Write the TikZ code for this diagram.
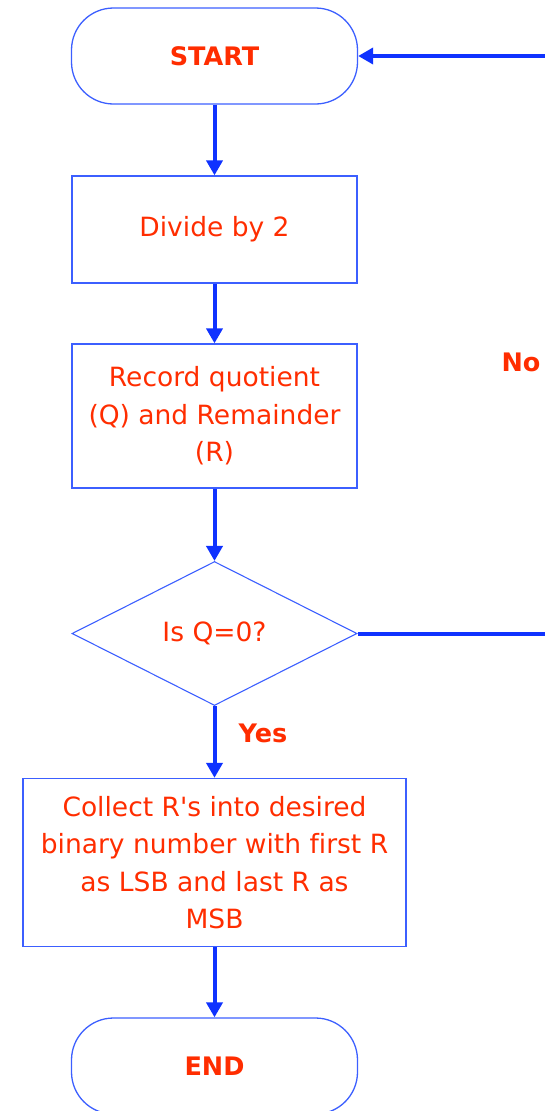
\documentclass[tikz,border=0pt]{standalone}
\usepackage{fontspec}
\setmainfont{DejaVu Sans}[Ligatures={NoCommon}]
\usetikzlibrary{shapes.geometric,arrows.meta}
\definecolor{lineblue}{RGB}{15,50,255}
\definecolor{boxblue}{RGB}{60,95,255}
\definecolor{txtred}{RGB}{255,45,0}
\tikzset{
  every node/.style={text=txtred, inner sep=0pt},
  term/.style={draw=boxblue, line width=1.3pt, rounded corners=42pt, minimum width=286pt, minimum height=96pt, font=\fontsize{25.5}{30}\selectfont\bfseries},
  procbox/.style={draw=boxblue, line width=1.3pt, align=center, font=\fontsize{26.5}{37.5}\selectfont},
  decision/.style={draw=boxblue, line width=1.1pt, diamond, aspect=2, minimum width=285pt, minimum height=144pt, font=\fontsize{26.5}{30}\selectfont},
  flow/.style={draw=lineblue, line width=4pt, -{Triangle[width=16pt,length=15pt]}},
  lbl/.style={font=\fontsize{25.5}{30}\selectfont\bfseries},
}
\begin{document}
\begin{tikzpicture}[x=1pt,y=-1pt]
\useasboundingbox (0,0) rectangle (544,1111);
\node[term] (start) at (214.5,56) {START};
\node[procbox, minimum width=285pt, minimum height=107pt] (divide) at (214.5,229.5) {Divide by 2};
\node[procbox, minimum width=285pt, minimum height=144pt] (record) at (214.5,416) {Record quotient\\(Q) and Remainder\\(R)};
\node[decision] (dec) at (214.5,633.5) {Is Q=0?};
\node[procbox, minimum width=383pt, minimum height=168pt] (collect) at (214.5,862.5) {Collect R\textquotesingle s into desired\\binary number with first R\\as LSB and last R as\\MSB};
\node[term] (end) at (214.5,1066) {END};
\coordinate (corner) at (580,633.5);
\node[lbl] (yes) at (263,733) {Yes};
\node[lbl] (no) at (521,362) {No};
\draw[flow] (start) -- (divide);
\draw[flow] (divide) -- (record);
\draw[flow] (record) -- (dec);
\draw[flow] (dec) -- (collect);
\draw[flow] (collect) -- (end);
\draw[flow] (dec.east) -- (corner) |- (start.east);
\end{tikzpicture}
\end{document}
